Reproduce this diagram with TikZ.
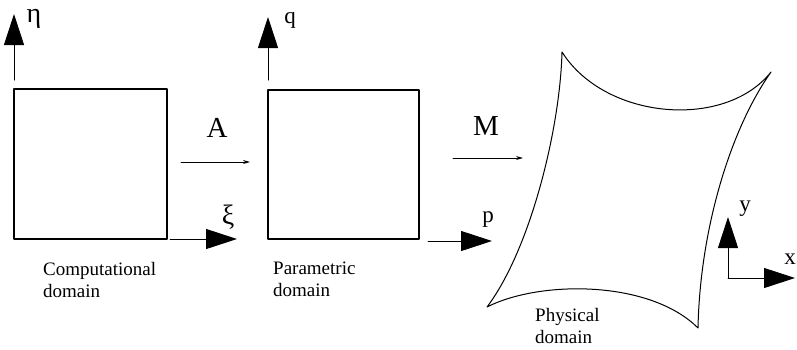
\documentclass[tikz,border=0pt]{standalone}
\usepackage{fontspec}
\setmainfont{Liberation Serif}
\newfontfamily\figfont{Liberation Serif}
\usetikzlibrary{arrows.meta}

\begin{document}
\begin{tikzpicture}[x=1pt, y=-1pt, line cap=round, line join=round,
	axis/.style={line width=1pt, -{Triangle[length=31pt,width=20pt]}},
	maparrow/.style={line width=0.9pt, -{Stealth[length=7pt,width=4pt]}},
	domainbox/.style={line width=1.3pt},
	caption/.style={anchor=north west, inner sep=0pt, align=left, font=\figfont\fontsize{19}{22}\selectfont},
	axislabel/.style={inner sep=0pt, font=\figfont\fontsize{23}{25}\selectfont},
	greeklabel/.style={inner sep=0pt, font=\figfont\fontsize{28}{30}\selectfont},
	maplabel/.style={inner sep=0pt, font=\figfont\fontsize{29}{31}\selectfont}]
	\useasboundingbox (0,0) rectangle (797,349);
	
	% Computational domain (xi, eta)
	\coordinate (C1) at (14,239);
	\coordinate (C2) at (167,89);
	\draw[domainbox] (C1) rectangle (C2);
	\coordinate (etaFoot) at (14,80);
	\coordinate (etaTip) at (14,14);
	\coordinate (xiFoot) at (170,239);
	\coordinate (xiTip) at (237,239);
	\draw[axis] (etaFoot) -- (etaTip);
	\draw[axis] (xiFoot) -- (xiTip);
	\node[greeklabel] (eta) at (34,19) {η};
	\node[greeklabel] (xi) at (228,217) {ξ};
	\node[caption] (comp) at (43,262) {Computational\\domain};
	
	% Mapping A
	\coordinate (Afrom) at (181,162);
	\coordinate (Ato) at (250,162);
	\draw[maparrow] (Afrom) -- (Ato);
	\node[maplabel] (A) at (217,128) {A};
	
	% Parametric domain (p, q)
	\coordinate (P1) at (268,239);
	\coordinate (P2) at (419,90);
	\draw[domainbox] (P1) rectangle (P2);
	\coordinate (qFoot) at (268,80);
	\coordinate (qTip) at (268,17);
	\coordinate (pFoot) at (428,241);
	\coordinate (pTip) at (492,241);
	\draw[axis] (qFoot) -- (qTip);
	\draw[axis] (pFoot) -- (pTip);
	\node[axislabel] (q) at (290,20) {q};
	\node[axislabel] (p) at (488,220) {p};
	\node[caption] (param) at (273,262) {Parametric\\domain};
	
	% Mapping M
	\coordinate (Mfrom) at (453,158);
	\coordinate (Mto) at (523,158);
	\draw[maparrow] (Mfrom) -- (Mto);
	\node[maplabel] (M) at (486,126) {M};
	
	% Physical domain: four inward curved sides
	\coordinate (TL) at (562,52);
	\coordinate (TR) at (771,72);
	\coordinate (BR) at (698,328);
	\coordinate (BL) at (487,307);
	\draw[line width=1pt] (TL) .. controls (605,120) and (725,130) .. (TR)
		.. controls (730,130) and (700,230) .. (BR)
		.. controls (650,280) and (540,280) .. (BL)
		.. controls (530,250) and (560,130) .. cycle;
	\node[caption] (phys) at (535,308) {Physical\\domain};
	
	% Cartesian axes x, y
	\coordinate (O) at (728,278);
	\coordinate (yTip) at (728,217);
	\coordinate (xTip) at (795,278);
	\draw[axis] (O) -- (yTip);
	\draw[axis] (O) -- (xTip);
	\node[axislabel] (y) at (745,209) {y};
	\node[axislabel] (x) at (790,259) {x};
\end{tikzpicture}
\end{document}
